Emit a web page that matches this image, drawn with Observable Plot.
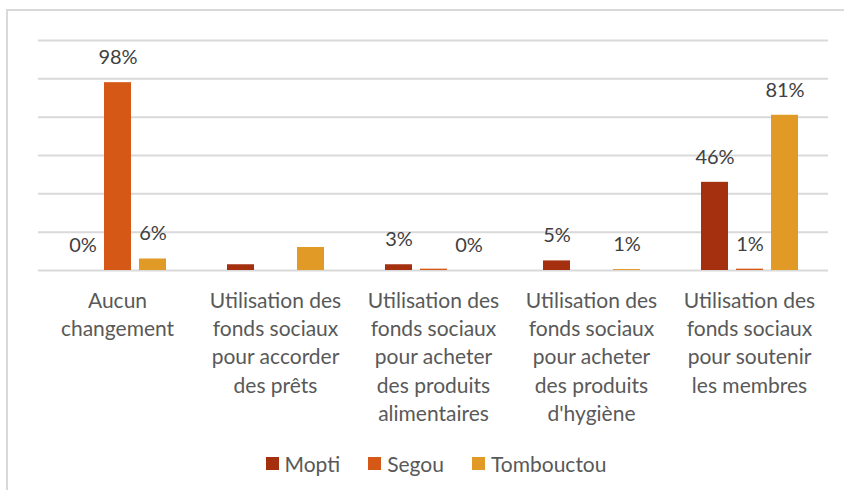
<!DOCTYPE html>
<html>
<head>
<meta charset="utf-8">
<script src="https://cdn.jsdelivr.net/npm/d3@7"></script>
<script src="https://cdn.jsdelivr.net/npm/@observablehq/plot@0.6"></script>
<style>
  html, body { margin: 0; padding: 0; background: #fff; }
  body { width: 844px; height: 490px; overflow: hidden; position: relative; font-family: Lato, "Open Sans", sans-serif; }
  #frame { position: absolute; left: 6px; top: 9px; width: 900px; height: 600px; border: 2px solid #d9d9d9; box-sizing: border-box; }
  #chart { position: absolute; left: 0; top: 0; }
  #legend { position: absolute; left: 0; top: 451px; width: 872px; display: flex; justify-content: center; gap: 28px; font-size: 21px; color: #595959; }
  #legend .item { display: flex; align-items: center; }
  #legend .sw { width: 13px; height: 13px; margin-right: 6px; }
</style>
</head>
<body>
<div id="frame"></div>
<div id="chart"></div>
<div id="legend"></div>
<script>
const categories = [
  "Aucun\nchangement",
  "Utilisation des\nfonds sociaux\npour accorder\ndes prêts",
  "Utilisation des\nfonds sociaux\npour acheter\ndes produits\nalimentaires",
  "Utilisation des\nfonds sociaux\npour acheter\ndes produits\nd'hygiène",
  "Utilisation des\nfonds sociaux\npour soutenir\nles membres"
];
const series = ["Mopti", "Segou", "Tombouctou"];
const colors = ["#a5300f", "#d55816", "#e09a25"];
const mopti      = [0, 3, 3, 5, 46];
const segou      = [98, 0, 0.7, 0, 0.7];
const tombouctou = [6, 12, 0, 0.5, 81];
const labelsMopti      = ["0%", "", "3%", "5%", "46%"];
const labelsSegou      = ["98%", "", "", "", "1%"];
const labelsTombouctou = ["6%", "", "0%", "1%", "81%"];
const yTicks = [0, 20, 40, 60, 80, 100, 120];

const values = [mopti, segou, tombouctou];
const labels = [labelsMopti, labelsSegou, labelsTombouctou];
const data = [];
categories.forEach((c, i) => {
  series.forEach((s, j) => {
    data.push({category: c, series: s, value: values[j][i], label: labels[j][i]});
  });
});

const chart = Plot.plot({
  width: 844,
  height: 445,
  marginLeft: 37,
  marginRight: 16,
  marginTop: 40,
  marginBottom: 175,
  style: {fontFamily: "Lato, 'Open Sans', sans-serif", background: "transparent"},
  fx: {domain: categories, padding: 0, axis: null},
  x: {domain: series, paddingInner: 0.235, paddingOuter: 0.86, axis: null},
  y: {domain: [0, 120], axis: null},
  color: {domain: series, range: colors},
  marks: [
    Plot.ruleY(yTicks, {stroke: "#d9d9d9", strokeWidth: 2}),
    Plot.barY(data, {fx: "category", x: "series", y: "value", fill: "series"}),
    Plot.text(data.filter(d => d.label), {fx: "category", x: "series", y: "value", text: "label", dy: -25, fontSize: 20, fill: "#404040"}),
    Plot.text(categories, {fx: d => d, text: d => d, frameAnchor: "bottom", lineAnchor: "top", dy: 17, fontSize: 21, lineHeight: 1.35, fill: "#595959"})
  ]
});
document.getElementById("chart").appendChild(chart);

const legend = document.getElementById("legend");
series.forEach((s, j) => {
  const item = document.createElement("div");
  item.className = "item";
  const sw = document.createElement("span");
  sw.className = "sw";
  sw.style.background = colors[j];
  const t = document.createElement("span");
  t.textContent = s;
  item.appendChild(sw);
  item.appendChild(t);
  legend.appendChild(item);
});
</script>
</body>
</html>
